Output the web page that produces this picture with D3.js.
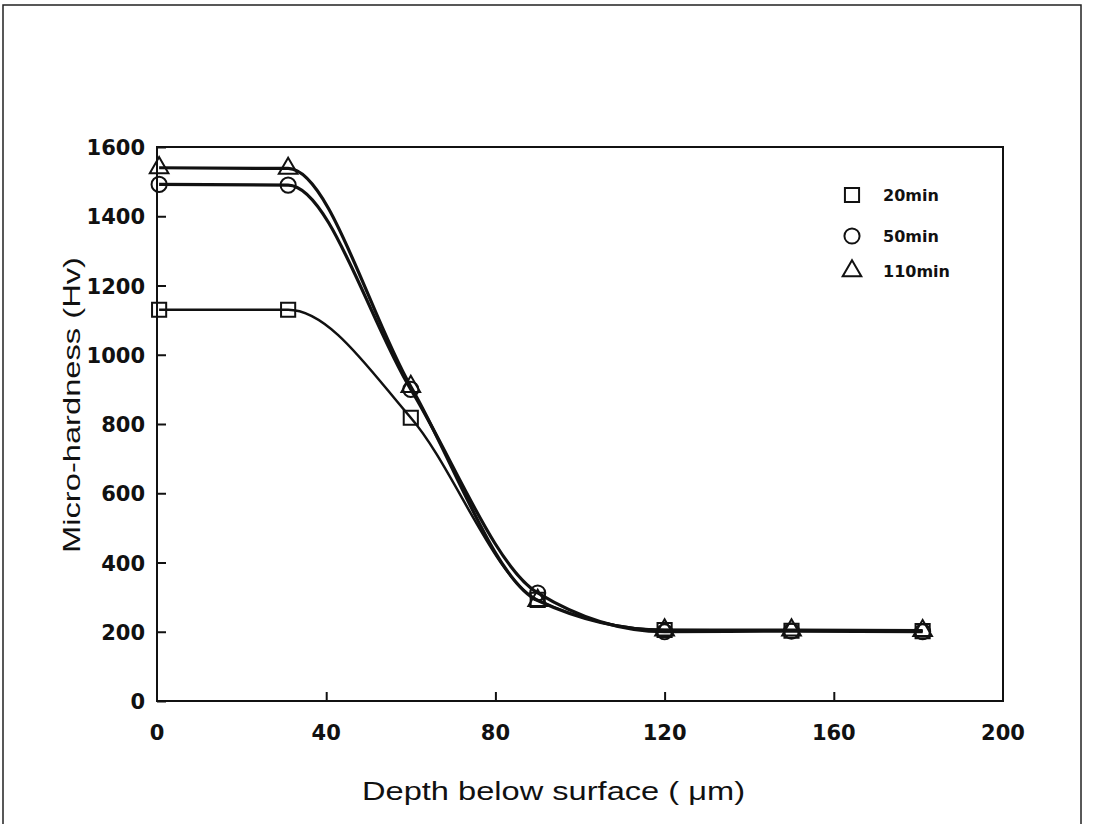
<!DOCTYPE html>
<html>
<head>
<meta charset="utf-8">
<script src="https://cdn.jsdelivr.net/npm/d3@7"></script>
<style>
  body { margin: 0; background: #fff; }
  svg { display: block; }
</style>
</head>
<body>
<svg width="1094" height="824"></svg>
<script>
// values
var depth = [0.5, 31, 60, 90, 120, 150, 181];
var hv20 = [1130, 1130, 818, 292, 205, 203, 202];
var hv50 = [1492, 1490, 900, 312, 200, 202, 200];
var hv110 = [1540, 1538, 908, 290, 205, 205, 203];

var seriesNames = ["20min", "50min", "110min"];
var seriesShapes = ["square", "circle", "triangle"];

var xTicks = [0, 40, 80, 120, 160, 200];
var yTicks = [0, 200, 400, 600, 800, 1000, 1200, 1400, 1600];

var svg = d3.select("svg");

var plotLeft = 157, plotRight = 1003, plotTop = 147, plotBottom = 701;

var x = d3.scaleLinear().domain([0, 200]).range([plotLeft, plotRight]);
var y = d3.scaleLinear().domain([0, 1600]).range([plotBottom, plotTop]);

// outer scanned frame
svg.append("rect")
    .attr("x", 3).attr("y", 5)
    .attr("width", 1078).attr("height", 830)
    .attr("fill", "none")
    .attr("stroke", "#222")
    .attr("stroke-width", 1.5);

// plot box
svg.append("rect")
    .attr("x", plotLeft).attr("y", plotTop)
    .attr("width", plotRight - plotLeft).attr("height", plotBottom - plotTop)
    .attr("fill", "none")
    .attr("stroke", "#111")
    .attr("stroke-width", 2);

// y axis, ticks pointing inward
var yAxis = svg.append("g")
    .attr("transform", "translate(" + plotLeft + ",0)")
    .call(d3.axisRight(y).tickValues(yTicks).tickSize(9).tickFormat(""));
yAxis.select(".domain").remove();
yAxis.selectAll("line").attr("stroke", "#111").attr("stroke-width", 2);

svg.selectAll(".ylab")
    .data(yTicks)
    .enter().append("text")
    .attr("class", "ylab")
    .attr("x", 145)
    .attr("y", function(d) { return y(d) + 8; })
    .attr("text-anchor", "end")
    .attr("font-family", "DejaVu Sans")
    .attr("font-weight", "bold")
    .attr("font-size", 21)
    .attr("fill", "#111")
    .text(function(d) { return d; });

// x axis, ticks pointing up
var xAxis = svg.append("g")
    .attr("transform", "translate(0," + plotBottom + ")")
    .call(d3.axisTop(x).tickValues(xTicks.slice(1, -1)).tickSize(9).tickFormat(""));
xAxis.select(".domain").remove();
xAxis.selectAll("line").attr("stroke", "#111").attr("stroke-width", 2);

svg.selectAll(".xlab")
    .data(xTicks)
    .enter().append("text")
    .attr("class", "xlab")
    .attr("x", function(d) { return x(d); })
    .attr("y", 740)
    .attr("text-anchor", "middle")
    .attr("font-family", "DejaVu Sans")
    .attr("font-weight", "bold")
    .attr("font-size", 21)
    .attr("fill", "#111")
    .text(function(d) { return d; });

// axis titles
svg.append("text")
    .attr("x", 362)
    .attr("y", 800)
    .attr("font-family", "Liberation Sans")
    .attr("font-size", 25)
    .attr("fill", "#111")
    .attr("textLength", 383)
    .attr("lengthAdjust", "spacingAndGlyphs")
    .text("Depth below surface ( \u03bcm)");

svg.append("text")
    .attr("transform", "translate(80,405) rotate(-90)")
    .attr("text-anchor", "middle")
    .attr("font-family", "Liberation Sans")
    .attr("font-size", 24)
    .attr("fill", "#111")
    .attr("textLength", 296)
    .attr("lengthAdjust", "spacingAndGlyphs")
    .text("Micro-hardness (Hv)");

// curves
var allSeries = [hv20, hv50, hv110];
var widths = [2.5, 3.2, 3.2];

var line = d3.line()
    .x(function(d, i) { return x(depth[i]); })
    .y(function(d) { return y(d); })
    .curve(d3.curveMonotoneX);

svg.selectAll(".curve")
    .data(allSeries)
    .enter().append("path")
    .attr("class", "curve")
    .attr("d", line)
    .attr("fill", "none")
    .attr("stroke", "#111")
    .attr("stroke-width", function(d, i) { return widths[i]; });

// markers
var symbolTypes = {
    square: d3.symbolSquare,
    circle: d3.symbolCircle,
    triangle: d3.symbolTriangle
};
var symbolSizes = { square: 200, circle: 180, triangle: 150 };

function marker(shape) {
    return d3.symbol().type(symbolTypes[shape]).size(symbolSizes[shape])();
}

allSeries.forEach(function(vals, s) {
    svg.selectAll(".m" + s)
        .data(vals)
        .enter().append("path")
        .attr("class", "m" + s)
        .attr("transform", function(d, i) {
            return "translate(" + x(depth[i]) + "," + y(d) + ")";
        })
        .attr("d", marker(seriesShapes[s]))
        .attr("fill", "none")
        .attr("stroke", "#111")
        .attr("stroke-width", 2);
});

// legend
var legendY = [195, 236, 271];
var legend = svg.selectAll(".leg")
    .data(seriesNames)
    .enter().append("g")
    .attr("class", "leg")
    .attr("transform", function(d, i) { return "translate(852," + legendY[i] + ")"; });

legend.append("path")
    .attr("d", function(d, i) { return marker(seriesShapes[i]); })
    .attr("fill", "none")
    .attr("stroke", "#111")
    .attr("stroke-width", 2);

legend.append("text")
    .attr("x", 31)
    .attr("y", 6)
    .attr("font-family", "DejaVu Sans")
    .attr("font-weight", "bold")
    .attr("font-size", 16)
    .attr("fill", "#111")
    .text(function(d) { return d; });
</script>
</body>
</html>
